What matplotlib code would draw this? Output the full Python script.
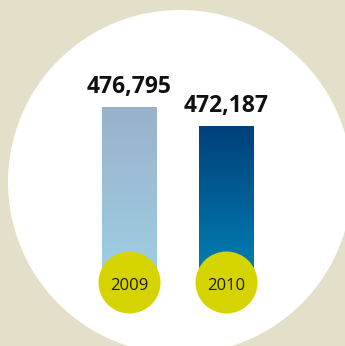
import matplotlib
matplotlib.use("Agg")
import matplotlib.pyplot as plt
import numpy as np
from matplotlib.patches import Circle
from matplotlib.colors import LinearSegmentedColormap

years = ["2009", "2010"]
values = [476795, 472187]
value_labels = ["476,795", "472,187"]

top_colors = ["#9ab2cb", "#003f7a"]
bottom_colors = ["#9dcfe3", "#0083b6"]
bg_color = "#e3dfc8"
yellow = "#d6d400"

W, H = 345, 346
fig = plt.figure(figsize=(W / 100, H / 100), dpi=100)
fig.patch.set_facecolor(bg_color)

# background white disc in pixel coordinates
bg = fig.add_axes([0, 0, 1, 1])
bg.set_xlim(0, W)
bg.set_ylim(H, 0)
bg.axis("off")
bg.add_patch(Circle((180, 182), 172, facecolor="white", edgecolor="none"))

# bar axes
ax = fig.add_axes([0, 0, 1, 1], facecolor="none")
px_per_unit_x = 97.0
x0_px = 129.0
units_per_px = (values[0] - values[1]) / 19.0
ytop = values[0] + 107 * units_per_px
ybot = values[0] - (H - 107) * units_per_px
ax.axis("off")

base = 434000
x = np.arange(len(years))
bars = ax.bar(x, [v - base for v in values], bottom=base, width=0.557,
              color="none", edgecolor="none")

for i, b in enumerate(bars):
    cmap = LinearSegmentedColormap.from_list("g", [bottom_colors[i], top_colors[i]])
    grad = np.linspace(0, 1, 256).reshape(-1, 1)
    bx, by = b.get_x(), b.get_y()
    bw, bh = b.get_width(), b.get_height()
    im = ax.imshow(grad, cmap=cmap, aspect="auto", origin="lower",
                   extent=[bx, bx + bw, by, by + bh], zorder=2)
    im.set_clip_path(b)
    ax.annotate(value_labels[i], (x[i], values[i]), xytext=(0, 10),
                textcoords="offset points", ha="center", va="baseline",
                fontsize=16.5, fontweight="bold", family="Open Sans",
                color="#111111", zorder=5)

ax.set_xlim(-x0_px / px_per_unit_x, (W - x0_px) / px_per_unit_x)
ax.set_ylim(ybot, ytop)

circle_y = (H - 282) / H
trans = ax.get_xaxis_transform()
ax.scatter(x, [circle_y] * len(x), s=(62 * 0.72) ** 2, color=yellow,
           transform=trans, zorder=4, linewidths=0)
for i, yr in enumerate(years):
    ax.annotate(yr, (x[i], circle_y), xycoords=trans, xytext=(0, -5.8),
                textcoords="offset points", ha="center", va="baseline",
                fontsize=12, family="Open Sans", color="#1a1a1a", zorder=5)

fig.savefig("out.png", dpi=100, facecolor=bg_color)
